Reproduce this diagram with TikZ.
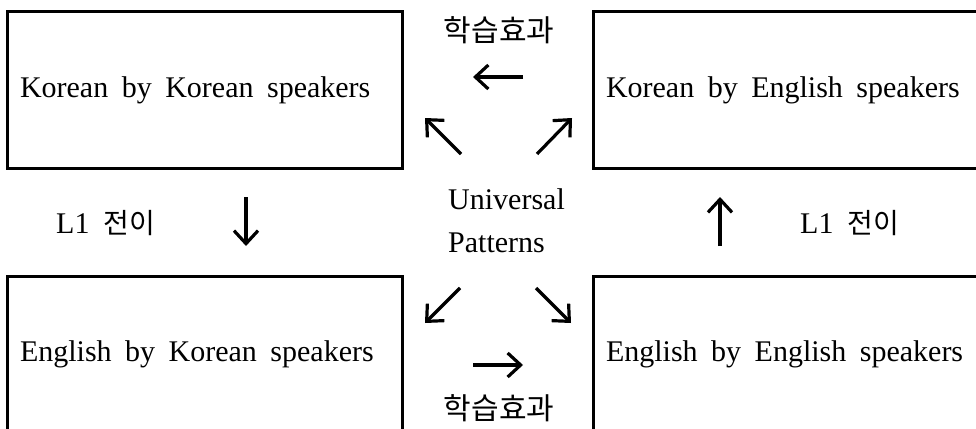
\documentclass[tikz,border=0pt]{standalone}
\usepackage{fontspec}
\setmainfont{Liberation Serif}
\newfontfamily\kofont{Noto Sans CJK KR}
\usetikzlibrary{arrows.meta}
% fixed interword gap used in the labels
\newcommand\wgap{\hspace{13.5pt}}

\begin{document}
\begin{tikzpicture}[x=1pt, y=-1pt,
  frame/.style={draw, line width=3pt, minimum height=156pt,
    text width=369pt, inner xsep=13pt, align=left,
    font=\fontsize{30}{36}\selectfont},
  plain/.style={inner sep=0pt, font=\fontsize{30}{36}\selectfont},
  kor/.style={inner sep=0pt, font=\fontsize{30}{36}\selectfont\kofont},
  arr/.style={line width=3.2pt, -{Straight Barb[length=13pt, width=24pt]}}]

  \useasboundingbox (0,0) rectangle (976,428);
  \clip (0,0) rectangle (976,428);

  % the four corpora
  \node[frame] (kk) at (204.5,90)  {Korean\wgap by\wgap Korean\wgap speakers};
  \node[frame] (ke) at (790.5,90)  {Korean\wgap by\wgap English\wgap speakers};
  \node[frame] (ek) at (204.5,354) {English\wgap by\wgap Korean\wgap speakers};
  \node[frame] (ee) at (790.5,354) {English\wgap by\wgap English\wgap speakers};

  % centre label
  \node[plain, anchor=base west] (univ) at (448,209) {Universal};
  \node[plain, anchor=base west] (patt) at (448,252) {Patterns};

  % learning-effect labels
  \node[kor] (learnT) at (499,30)  {학습효과};
  \node[kor] (learnB) at (499,408) {학습효과};

  % L1 transfer labels
  \node[plain, anchor=west] (tL) at (56,223)  {L1\hspace{14pt}{\kofont\fontsize{28}{32}\selectfont 전이}};
  \node[plain, anchor=west] (tR) at (800,223) {L1\hspace{14pt}{\kofont\fontsize{28}{32}\selectfont 전이}};

  % arrow end points
  \coordinate (lT1) at (523,77);  \coordinate (lT2) at (473,77);
  \coordinate (lB1) at (473,365); \coordinate (lB2) at (523,365);
  \coordinate (nw1) at (461,154); \coordinate (nw2) at (425,118);
  \coordinate (ne1) at (537,154); \coordinate (ne2) at (572,118);
  \coordinate (sw1) at (460,288); \coordinate (sw2) at (425,323);
  \coordinate (se1) at (536,288); \coordinate (se2) at (571,323);
  \coordinate (dn1) at (246,197); \coordinate (dn2) at (246,246);
  \coordinate (up1) at (720,246); \coordinate (up2) at (720,197);

  \draw[arr] (lT1) -- (lT2);
  \draw[arr] (lB1) -- (lB2);
  \draw[arr] (nw1) -- (nw2);
  \draw[arr] (ne1) -- (ne2);
  \draw[arr] (sw1) -- (sw2);
  \draw[arr] (se1) -- (se2);
  \draw[arr] (dn1) -- (dn2);
  \draw[arr] (up1) -- (up2);
\end{tikzpicture}
\end{document}
